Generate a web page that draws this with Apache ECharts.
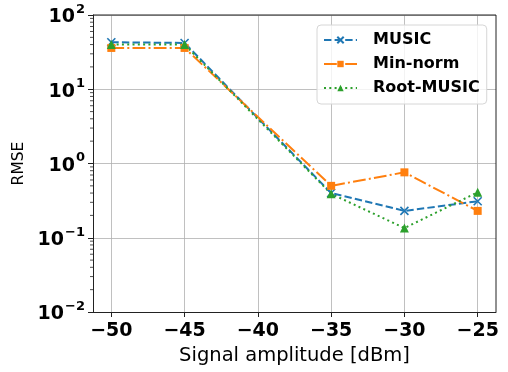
<!DOCTYPE html>
<html>
<head>
<meta charset="utf-8">
<script src="https://cdn.jsdelivr.net/npm/echarts@6/dist/echarts.min.js"></script>
<style>
  html, body { margin: 0; padding: 0; background: #fff; }
  #chart { width: 508px; height: 372px; }
</style>
</head>
<body>
<div id="chart"></div>
<script>
// Signal amplitude (dBm) on the x axis
const amplitudes = [-50, -45, -35, -30, -25];
// RMSE per estimator
const musicRmse = [43, 42, 0.40, 0.23, 0.31];
const minNormRmse = [36, 36, 0.50, 0.76, 0.23];
const rootMusicRmse = [40, 40, 0.39, 0.135, 0.41];
// Axis ticks
const xTicks = [-50, -45, -40, -35, -30, -25];

const FONT = '"DejaVu Sans", sans-serif';
const X_MIN = -51.25, X_MAX = -23.75;

// minor tick values on the log axis: 2..9 x 10^k
const minorVals = [];
for (let k = -2; k < 2; k++) {
  for (let m = 2; m <= 9; m++) minorVals.push(m * Math.pow(10, k));
}

const pairs = (ys) => amplitudes.map((x, i) => [x, ys[i]]);
const minus = (s) => String(s).replace('-', '\u2212');

const chart = echarts.init(document.getElementById('chart'), null, { renderer: 'canvas' });

chart.setOption({
  animation: false,
  backgroundColor: '#fff',
  grid: { left: 93, right: 12, top: 15, bottom: 60, containLabel: false, show: false },
  legend: {
    left: 317, top: 25,
    orient: 'vertical',
    itemWidth: 33, itemHeight: 8, itemGap: 8,
    padding: [7, 7, 8, 6],
    backgroundColor: 'rgba(255,255,255,0.8)',
    borderColor: '#d6d6d6', borderWidth: 1, borderRadius: 4,
    textStyle: { fontFamily: FONT, fontWeight: 'bold', fontSize: 16, color: '#000', padding: [0, 0, 0, 11] },
    data: ['MUSIC', 'Min-norm', 'Root-MUSIC']
  },
  xAxis: {
    type: 'value', min: X_MIN, max: X_MAX,
    name: 'Signal amplitude [dBm]',
    nameLocation: 'middle', nameGap: 32,
    nameTextStyle: { fontFamily: FONT, fontSize: 19.5, color: '#000' },
    axisLine: { show: true, onZero: false, lineStyle: { color: '#222', width: 1 } },
    axisTick: { show: true, length: 5, inside: false, customValues: xTicks, lineStyle: { color: '#222' } },
    axisLabel: {
      customValues: xTicks, margin: 10,
      fontFamily: FONT, fontWeight: 'bold', fontSize: 19, color: '#000',
      formatter: (v) => minus(v)
    },
    splitLine: { show: true, lineStyle: { color: '#b0b0b0', width: 0.8 } }
  },
  yAxis: {
    type: 'log', logBase: 10, min: 0.01, max: 100,
    name: 'RMSE', nameLocation: 'middle', nameGap: 66, nameRotate: 90,
    nameTextStyle: { fontFamily: FONT, fontSize: 15.5, color: '#000' },
    axisLine: { show: true, lineStyle: { color: '#222', width: 1 } },
    axisTick: { show: true, length: 5, lineStyle: { color: '#222' } },
    axisLabel: {
      margin: 8,
      formatter: (v) => {
        const e = Math.round(Math.log10(v));
        return '{b|10}{s|' + minus(e) + '}';
      },
      rich: {
        b: { fontFamily: FONT, fontWeight: 'bold', fontSize: 19, color: '#000', verticalAlign: 'bottom', lineHeight: 24 },
        s: { fontFamily: FONT, fontWeight: 'bold', fontSize: 13, color: '#000', verticalAlign: 'top', lineHeight: 24, padding: [0, 0, 0, 1] }
      }
    },
    splitLine: { show: true, lineStyle: { color: '#b0b0b0', width: 0.8 } }
  },
  series: [
    {
      // minor ticks on the log axis
      type: 'custom', silent: true, z: 1, clip: false,
      data: minorVals.map(v => [X_MIN, v]),
      renderItem: (params, api) => {
        const p = api.coord([X_MIN, api.value(1)]);
        return { type: 'line', shape: { x1: p[0] - 3, y1: p[1], x2: p[0], y2: p[1] }, style: { stroke: '#222', lineWidth: 0.8 } };
      }
    },
    {
      // top and right frame lines
      type: 'custom', silent: true, z: 1, clip: false,
      data: [[X_MAX, 0.01]],
      renderItem: (params, api) => {
        const tl = api.coord([X_MIN, 100]);
        const tr = api.coord([X_MAX, 100]);
        const br = api.coord([X_MAX, 0.01]);
        return { type: 'polyline', shape: { points: [tl, tr, br] }, style: { stroke: '#222', lineWidth: 1, fill: null } };
      }
    },
    {
      name: 'MUSIC', type: 'line', data: pairs(musicRmse), z: 3,
      color: '#1f77b4',
      lineStyle: { width: 2, type: [7.4, 3.2] },
      symbol: 'path://M0,0L10,10M10,0L0,10', symbolSize: 8,
      itemStyle: { color: '#1f77b4', borderColor: '#1f77b4', borderWidth: 1.6 }
    },
    {
      name: 'Min-norm', type: 'line', data: pairs(minNormRmse), z: 3,
      color: '#ff7f0e',
      lineStyle: { width: 2, type: [12.8, 3.2, 2, 3.2] },
      symbol: 'rect', symbolSize: 8,
      itemStyle: { color: '#ff7f0e' }
    },
    {
      name: 'Root-MUSIC', type: 'line', data: pairs(rootMusicRmse), z: 3,
      color: '#2ca02c',
      lineStyle: { width: 2, type: [2, 3.3] },
      symbol: 'triangle', symbolSize: 9,
      itemStyle: { color: '#2ca02c' }
    }
  ]
});
</script>
</body>
</html>
